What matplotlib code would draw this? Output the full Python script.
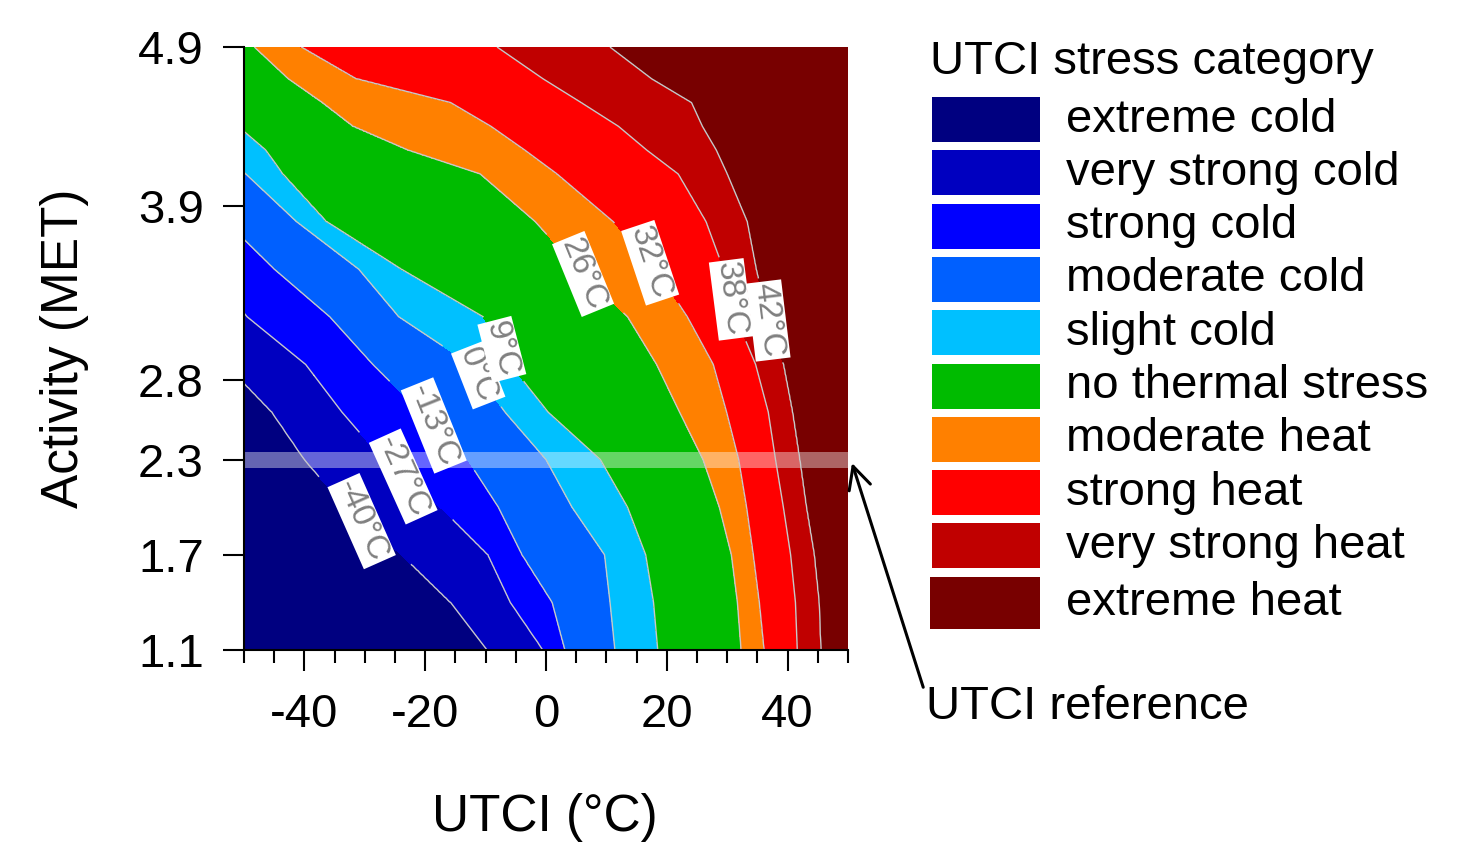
import numpy as np
import matplotlib
matplotlib.use('Agg')
import matplotlib.pyplot as plt
from matplotlib.patches import Rectangle

plt.rcParams['font.family'] = ['Liberation Sans', 'DejaVu Sans']
plt.rcParams['axes.unicode_minus'] = False

# stress categories and their colours
categories = ['extreme cold', 'very strong cold', 'strong cold', 'moderate cold',
              'slight cold', 'no thermal stress', 'moderate heat', 'strong heat',
              'very strong heat', 'extreme heat']
colors = ['#000080', '#0000C0', '#0000FF', '#0060FF', '#00C0FF',
          '#00BB00', '#FF8000', '#FF0000', '#C00000', '#780000']

# category thresholds (°C)
levels = [-40, -27, -13, 0, 9, 26, 32, 38, 42]
level_text = ['-40°C', '-27°C', '-13°C', '0°C', '9°C', '26°C', '32°C', '38°C', '42°C']

# activity rows (MET) where the class edges were read
met_rows = [1.1, 1.4, 1.7, 2.0, 2.3, 2.6, 2.9, 3.2, 3.5, 3.8, 4.1, 4.25, 4.4, 4.55, 4.7, 4.9]

# UTCI value (°C) where each threshold is crossed, per activity row
edge_m40 = [-9.7, -15.8, -23.9, -33.2, -40.0, -45.4, -53, -59, -66, -73, -79, -82, -86, -89, -92, -96]
edge_m27 = [-0.5, -5.9, -9.6, -17.5, -27.0, -33.8, -39.8, -49.5, -56, -63, -69, -72, -76, -79, -82, -86]
edge_m13 = [3.1, 1.0, -4.0, -7.9, -13.0, -20.8, -28.7, -35.8, -45.0, -53, -59, -62, -66, -69, -72, -76]
edge_0 = [11.4, 10.6, 9.7, 4.3, 0.0, -6.8, -12.5, -24.4, -31.0, -41.3, -49.7, -54, -58, -62, -65, -69]
edge_9 = [18.5, 17.8, 16.5, 13.5, 9.0, 0.3, -5.9, -10.4, -24.0, -36.4, -43.6, -46.4, -51, -56, -60, -63]
edge_26 = [32.3, 31.7, 30.7, 28.7, 26.0, 22.1, 18.3, 13.5, 5.3, -1.8, -10.9, -22.9, -32.0, -37.1, -42.7, -48.3]
edge_32 = [36.1, 35.3, 34.3, 33.2, 31.9, 29.9, 27.7, 23.4, 18.2, 11.1, 1.8, -3.5, -9.1, -15.8, -31.5, -40.6]
edge_38 = [41.6, 41.3, 40.5, 39.3, 38.0, 36.8, 34.7, 31.4, 29.4, 26.5, 21.9, 16.7, 12.0, 5.8, -0.5, -8.1]
edge_42 = [45.5, 45.2, 44.4, 43.1, 42.0, 40.8, 39.3, 36.6, 34.8, 33.3, 30.0, 28.2, 25.9, 24.1, 17.5, 10.6]

yticks = [1.1, 1.7, 2.3, 2.8, 3.9, 4.9]

# label anchor points (UTCI, MET)
label_pos = [(-30.7, 1.91), (-24.1, 2.19), (-17.8, 2.52), (-11.7, 2.83), (-8.4, 2.99),
             (7.6, 3.48), (17.2, 3.54), (30.9, 3.31), (38.0, 3.18)]

edges = [edge_m40, edge_m27, edge_m13, edge_0, edge_9, edge_26, edge_32, edge_38, edge_42]

# build the class field: edges followed along activity, then filled along UTCI
x = np.linspace(-120, 120, 1201)
y = np.linspace(1.1, 4.9, 381)
fill_levels = [-100] + levels + [100]
edge_grid = [np.interp(y, met_rows, e) for e in edges]
Z = np.array([np.interp(x, [-200] + [eg[j] for eg in edge_grid] + [200], fill_levels)
              for j in range(len(y))])

W, H = 1460, 850
fig = plt.figure(figsize=(W / 100, H / 100), dpi=100)
ax = fig.add_axes([244 / W, 1 - 650 / H, 604 / W, 603 / H])

ax.contourf(x, y, Z, levels=fill_levels, colors=colors)
cs = ax.contour(x, y, Z, levels=levels, colors='#c8c8c8', linewidths=1.0,
                linestyles='solid')
fmt = dict(zip(levels, level_text))
labels = ax.clabel(cs, levels, fmt=fmt, manual=label_pos, inline=True,
                   fontsize=24, colors='#808080')
for t in labels:
    t.set_bbox(dict(facecolor='white', edgecolor='none', pad=1.5))

# reference activity band
ax.axhspan(2.25, 2.35, color='white', alpha=0.4, lw=0)

ax.set_xlim(-50, 50)
ax.set_ylim(1.1, 4.9)
ax.set_xticks([-40, -20, 0, 20, 40])
ax.set_xticks(np.arange(-50, 51, 5), minor=True)
ax.set_yticks(yticks)
ax.set_yticklabels([str(v) for v in yticks])
ax.tick_params(which='major', length=15, width=1.5, labelsize=34)
ax.tick_params(axis='x', which='major', pad=16)
ax.tick_params(axis='y', which='major', pad=14)
ax.tick_params(which='minor', length=9, width=1.5)
for s in ['top', 'right']:
    ax.spines[s].set_visible(False)
for s in ['left', 'bottom']:
    ax.spines[s].set_linewidth(1.5)

fig.text(545 / W, 1 - 818 / H, 'UTCI (°C)', fontsize=37, ha='center', va='center')
fig.text(65 / W, 1 - 348 / H, 'Activity (MET)', fontsize=37, ha='center', va='center',
         rotation=90)

# legend drawn by hand
fig.text(930 / W, 1 - 62 / H, 'UTCI stress category', fontsize=34, ha='left', va='center')
for i, (name, c) in enumerate(zip(categories, colors)):
    top = 97 + i * 53.3
    h = 45
    x0, w = 932, 108
    if i == len(categories) - 1:
        top, h, x0, w = 577, 52, 930, 110
    fig.add_artist(Rectangle((x0 / W, 1 - (top + h) / H), w / W, h / H,
                             transform=fig.transFigure, facecolor=c, edgecolor='none'))
    fig.text(1066 / W, 1 - (top + h / 2) / H, name, fontsize=34, ha='left', va='center')

ax.annotate('UTCI reference', xy=(852 / W, 1 - 463 / H), xycoords='figure fraction',
            xytext=(926 / W, 1 - 707 / H), textcoords='figure fraction',
            fontsize=34, ha='left', va='center',
            arrowprops=dict(arrowstyle='->', color='black', lw=2.2,
                            mutation_scale=40, shrinkA=0, shrinkB=0,
                            relpos=(0.0, 0.75)))

fig.savefig('out.png', dpi=100)
